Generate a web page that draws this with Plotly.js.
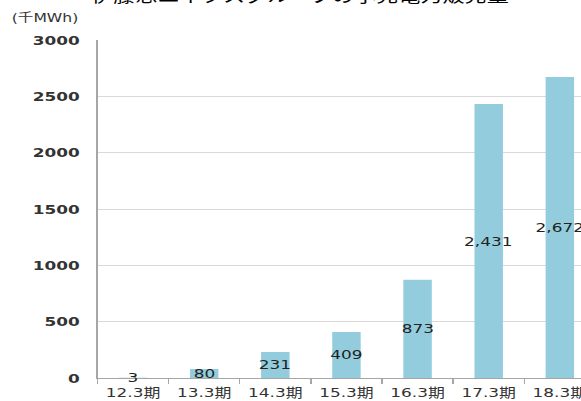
<!DOCTYPE html>
<html>
<head>
<meta charset="utf-8">
<script src="https://cdn.plot.ly/plotly-3.0.1.min.js"></script>
<style>
  html, body { margin: 0; padding: 0; overflow: hidden; background: #ffffff; }
  #wrap { width: 581px; height: 401px; overflow: hidden; position: relative; }
  /* the chart is laid out narrow and widened horizontally */
  #chart { position: absolute; left: 0; top: 0; width: 480px; height: 401px;
           transform: scaleX(1.3); transform-origin: 0 0; }
</style>
</head>
<body>
<div id="wrap"><div id="chart"></div></div>
<script>
// Retail electricity sales volume by fiscal period (thousand MWh)
const periods = ["12.3期", "13.3期", "14.3期", "15.3期", "16.3期", "17.3期", "18.3期"];
const sales = [3, 80, 231, 409, 873, 2431, 2672];
const yTicks = [0, 500, 1000, 1500, 2000, 2500, 3000];
const chartTitle = "伊藤忠エネクスグループの小売電力販売量";
const unitLabel = "(千MWh)";

const FONT = "DejaVu Sans, Verdana, 'Noto Sans CJK JP', sans-serif";
const JPFONT = "'Noto Sans CJK JP', 'DejaVu Sans', sans-serif";

const trace = {
  type: "bar",
  x: periods,
  y: sales,
  marker: { color: "#93cddd", line: { width: 0 } },
  hoverinfo: "skip"
};

// value labels sit at the middle of each bar
const valueLabels = periods.map((p, i) => ({
  x: p, y: sales[i] / 2, xref: "x", yref: "y",
  text: sales[i].toLocaleString("en-US"),
  showarrow: false,
  font: { family: FONT, size: 13, color: "#222222" },
  xanchor: "center", yanchor: "middle"
}));

const layout = {
  width: 480,
  height: 401,
  margin: { l: 75, r: 21.5, t: 40, b: 23 },
  paper_bgcolor: "#ffffff",
  plot_bgcolor: "#ffffff",
  showlegend: false,
  bargap: 0.6,
  xaxis: {
    type: "category",
    range: [-0.5, periods.length - 0.5],
    showline: true, linecolor: "#a6a6a6", linewidth: 1,
    ticks: "outside", tickson: "boundaries", ticklen: 5, tickcolor: "#a6a6a6",
    showgrid: false,
    ticklabelstandoff: 2,
    tickfont: { family: FONT, size: 13, color: "#333333" },
    fixedrange: true
  },
  yaxis: {
    range: [0, 3000],
    tickvals: yTicks,
    ticktext: yTicks.map(String),
    showline: true, linecolor: "#a6a6a6", linewidth: 1,
    showgrid: true, gridcolor: "#d9d9d9", gridwidth: 1,
    zeroline: false,
    ticks: "",
    ticklabelstandoff: 10,
    tickfont: { family: FONT, size: 13, color: "#333333", weight: "bold" },
    fixedrange: true
  },
  annotations: valueLabels.concat([
    {
      text: chartTitle, xref: "paper", yref: "paper", x: 0.5, y: 1,
      xshift: -36, yshift: 46, showarrow: false,
      xanchor: "center", yanchor: "middle",
      font: { family: JPFONT, size: 17, color: "#000000" }
    },
    {
      text: unitLabel, xref: "paper", yref: "paper", x: 0, y: 1,
      xshift: -13, yshift: 22, showarrow: false,
      xanchor: "right", yanchor: "middle",
      font: { family: FONT, size: 12, color: "#333333" }
    }
  ])
};

Plotly.newPlot("chart", [trace], layout, { displayModeBar: false, staticPlot: true });
</script>
</body>
</html>
